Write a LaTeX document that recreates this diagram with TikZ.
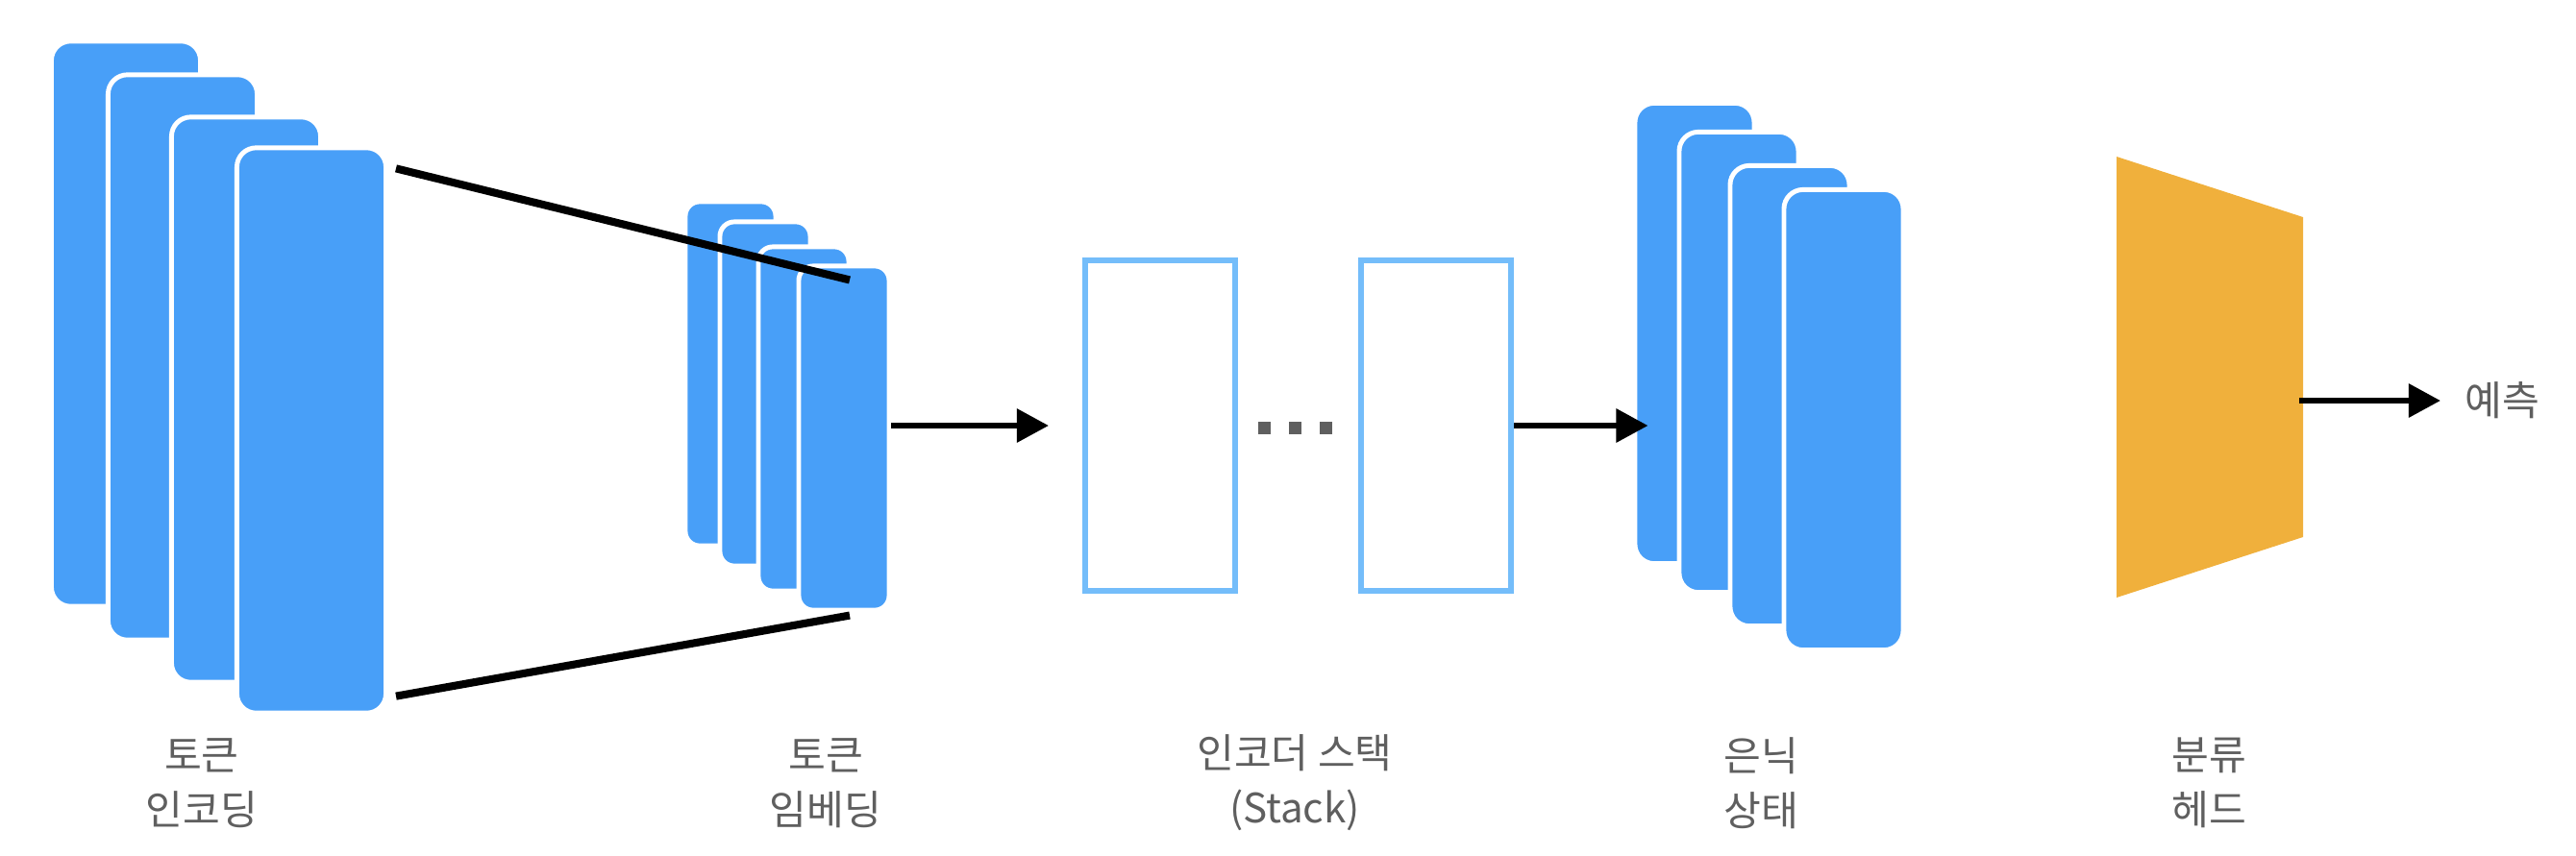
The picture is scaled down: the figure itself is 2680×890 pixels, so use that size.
\documentclass[tikz,border=0pt]{standalone}
\usepackage{fontspec}
\setmainfont{Noto Sans CJK KR}
\usetikzlibrary{arrows.meta,calc}
\definecolor{cardblue}{HTML}{489FF8}
\definecolor{boxblue}{HTML}{74BDFA}
\definecolor{headorange}{HTML}{F0B03C}
\definecolor{labelgray}{HTML}{5F5F5F}

\begin{document}
\begin{tikzpicture}[x=0.01cm, y=-0.01cm,
    card/.style={draw=white, line width=1.4pt, fill=cardblue, rounded corners=0.2cm, inner sep=0pt},
    enccard/.style={card, minimum width=1.55cm, minimum height=5.88cm},
    embcard/.style={card, minimum width=0.94cm, minimum height=3.58cm, rounded corners=0.15cm},
    hidcard/.style={card, minimum width=1.24cm, minimum height=4.79cm},
    stackbox/.style={draw=boxblue, line width=1.7pt, minimum width=1.56cm, minimum height=3.43cm, inner sep=0pt},
    dot/.style={fill=labelgray, minimum size=0.13cm, inner sep=0pt},
    conn/.style={line width=2.3pt},
    arr/.style={line width=1.7pt, -{Triangle[length=0.33cm, width=0.34cm]}},
    lbl/.style={text=labelgray, font=\fontsize{12}{16.2}\selectfont, align=center}]
\useasboundingbox (0,0) rectangle (2680,890);
\foreach \x/\y [count=\i] in {131/337, 190/372, 256/416, 324/448}
    \node[enccard] (E\i) at (\x,\y) {};
\foreach \x/\y [count=\i] in {760/389, 796/410, 836/436, 878/456}
    \node[embcard] (M\i) at (\x,\y) {};
\draw[conn] ($(E4.north east)+(8,24)$) -- ($(M4.north)+(6,17)$);
\draw[conn] ($(E4.south east)+(8,-20)$) -- ($(M4.south)+(6,3)$);
\node[stackbox] (B1) at (1207,443) {};
\node[stackbox] (B2) at (1494,443) {};
\foreach \x [count=\i] in {1315,1347,1379}
    \node[dot] (d\i) at (\x,445) {};
\foreach \x/\y [count=\i] in {1763/347, 1809/377, 1862/412, 1918/437}
    \node[hidcard] (H\i) at (\x,\y) {};
\fill[headorange] (2202,163) -- (2396,226) -- (2396,559) -- (2202,622) -- cycle;
\coordinate (headout) at (2392,417);
\node[lbl, anchor=west, inner xsep=0.25cm] (pred) at (2539,417) {예측};
\draw[arr] (M4.east |- B1.west) -- ($(B1.west)+(-35,0)$);
\draw[arr] (B2.east) -- ($(H1.west |- B2.east)+(16,0)$);
\draw[arr] (headout) -- (pred.west);
\node[lbl] (encl) at (210,815) {토큰\\인코딩};
\node[lbl] (embl) at (859,815) {토큰\\임베딩};
\node[lbl] (stkl) at (1347,815) {인코더 스택\\(Stack)};
\node[lbl] (hidl) at (1832,815) {은닉\\상태};
\node[lbl] (headl) at (2298,815) {분류\\헤드};
\end{tikzpicture}
\end{document}
